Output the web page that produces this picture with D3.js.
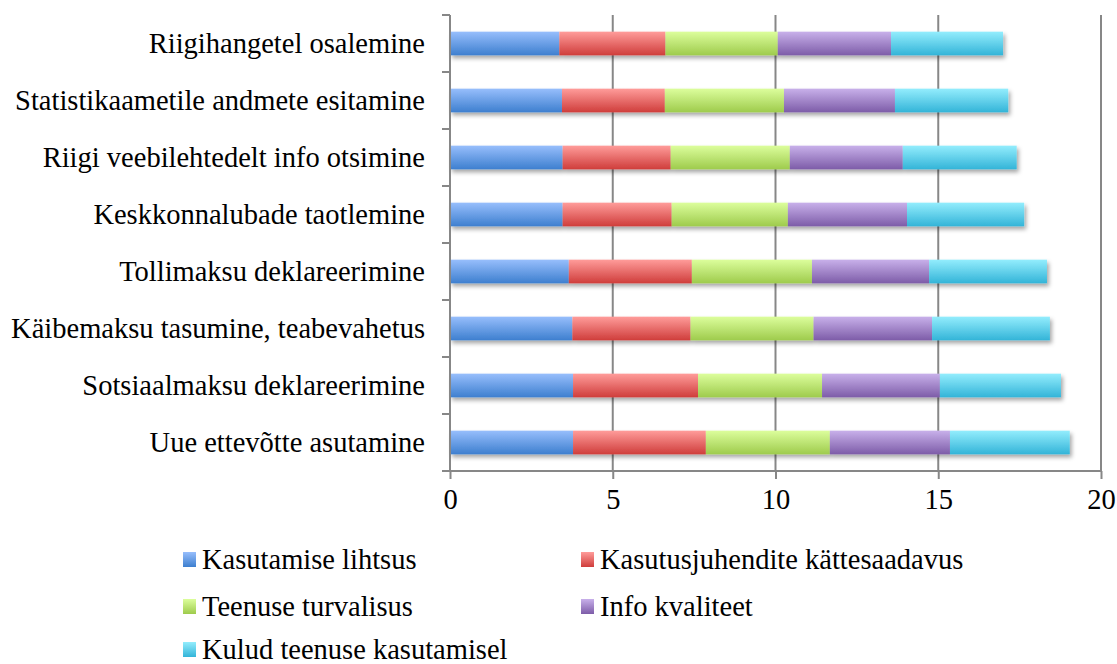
<!DOCTYPE html>
<html>
<head>
<meta charset="utf-8">
<script src="https://cdnjs.cloudflare.com/ajax/libs/d3/7.8.5/d3.min.js"></script>
<style>
  body { margin: 0; background: #fff; }
  text { font-family: "Liberation Serif", "Times New Roman", serif; fill: #000; }
</style>
</head>
<body>
<div id="chart"></div>
<script>
// categories, top to bottom
var categories = [
    "Riigihangetel osalemine",
    "Statistikaametile andmete esitamine",
    "Riigi veebilehtedelt info otsimine",
    "Keskkonnalubade taotlemine",
    "Tollimaksu deklareerimine",
    "Käibemaksu tasumine, teabevahetus",
    "Sotsiaalmaksu deklareerimine",
    "Uue ettevõtte asutamine"
];
var seriesNames = [
    "Kasutamise lihtsus",
    "Kasutusjuhendite kättesaadavus",
    "Teenuse turvalisus",
    "Info kvaliteet",
    "Kulud teenuse kasutamisel"
];
var lihtsus     = [3.36, 3.44, 3.46, 3.46, 3.65, 3.76, 3.78, 3.78];
var juhendid    = [3.26, 3.16, 3.32, 3.35, 3.78, 3.63, 3.84, 4.08];
var turvalisus  = [3.45, 3.66, 3.66, 3.57, 3.69, 3.78, 3.81, 3.81];
var kvaliteet   = [3.48, 3.41, 3.47, 3.66, 3.60, 3.64, 3.62, 3.69];
var kulud       = [3.44, 3.48, 3.50, 3.60, 3.62, 3.62, 3.72, 3.68];
var xTicks = [0, 5, 10, 15, 20];

var colors = [
    ["#97befc", "#3d7fcf"],
    ["#ff9c9a", "#cf3d3b"],
    ["#dcfe9c", "#9ecb4c"],
    ["#c8b0ea", "#7d5ca8"],
    ["#93edfd", "#33b4d8"]
];

var width = 1117, height = 664;
var mLeft = 450, mRight = 1101, mTop = 15, mBottom = 471;
var fontSize = 28.5;

var table = categories.map(function(c, i) {
    return {
        name: c,
        s0: lihtsus[i], s1: juhendid[i], s2: turvalisus[i], s3: kvaliteet[i], s4: kulud[i]
    };
});
var keys = ["s0", "s1", "s2", "s3", "s4"];
var stacked = d3.stack().keys(keys)(table);

var svg = d3.select("#chart").append("svg")
    .attr("width", width)
    .attr("height", height);

var defs = svg.append("defs");
colors.forEach(function(c, i) {
    var g = defs.append("linearGradient")
        .attr("id", "grad" + i)
        .attr("x1", 0).attr("y1", 0).attr("x2", 0).attr("y2", 1);
    g.append("stop").attr("offset", "0%").attr("stop-color", c[0]);
    g.append("stop").attr("offset", "100%").attr("stop-color", c[1]);
});
var shadow = defs.append("filter").attr("id", "shadow")
    .attr("x", "-5%").attr("y", "-30%").attr("width", "110%").attr("height", "180%");
shadow.append("feDropShadow")
    .attr("dx", 2).attr("dy", 3)
    .attr("stdDeviation", 2)
    .attr("flood-color", "#000")
    .attr("flood-opacity", 0.35);

var x = d3.scaleLinear().domain([0, 20]).range([mLeft, mRight]);
var y = d3.scaleBand().domain(categories).range([mTop, mBottom])
    .paddingInner(0.585).paddingOuter(0.2925);

var gridColor = "#878787";

// vertical gridlines
svg.append("g").selectAll("line")
    .data(xTicks.slice(1))
    .join("line")
    .attr("x1", function(d) { return x(d); })
    .attr("x2", function(d) { return x(d); })
    .attr("y1", mTop)
    .attr("y2", mBottom)
    .attr("stroke", gridColor)
    .attr("stroke-width", 2);

// bars, one row group per category with shadow
var rows = svg.append("g").selectAll("g")
    .data(table)
    .join("g")
    .attr("filter", "url(#shadow)");

rows.selectAll("rect")
    .data(function(d, i) {
        return stacked.map(function(s, k) { return { k: k, seg: s[i] }; });
    })
    .join("rect")
    .attr("x", function(d) { return x(d.seg[0]); })
    .attr("width", function(d) { return x(d.seg[1]) - x(d.seg[0]); })
    .attr("y", function(d) { return y(d.seg.data.name); })
    .attr("height", y.bandwidth())
    .attr("fill", function(d) { return "url(#grad" + d.k + ")"; });

// x axis
var xAxis = svg.append("g")
    .attr("transform", "translate(0," + mBottom + ")")
    .call(d3.axisBottom(x).tickValues(xTicks).tickSize(8).tickPadding(10));
xAxis.select(".domain")
    .attr("d", "M" + (mLeft - 8) + ",0H" + mRight)
    .attr("stroke", gridColor).attr("stroke-width", 2);
xAxis.selectAll(".tick line").attr("stroke", gridColor).attr("stroke-width", 2);
xAxis.selectAll(".tick text")
    .style("font-family", "'Liberation Serif', serif")
    .attr("font-size", fontSize)
    .attr("dy", "0.71em");

// y axis
var yAxis = svg.append("g")
    .attr("transform", "translate(" + mLeft + ",0)")
    .call(d3.axisLeft(y).tickSize(0).tickPadding(25));
yAxis.select(".domain")
    .attr("d", "M0," + mTop + "V" + mBottom)
    .attr("stroke", gridColor).attr("stroke-width", 2);
yAxis.selectAll(".tick text")
    .style("font-family", "'Liberation Serif', serif")
    .attr("font-size", fontSize);

// category boundary ticks on the y axis
var bounds = d3.range(categories.length + 1).map(function(i) { return mTop + i * y.step(); });
svg.append("g").selectAll("line")
    .data(bounds)
    .join("line")
    .attr("x1", mLeft - 8)
    .attr("x2", mLeft)
    .attr("y1", function(d) { return d; })
    .attr("y2", function(d) { return d; })
    .attr("stroke", gridColor)
    .attr("stroke-width", 2);

// legend
var legendPos = [[183, 559], [581, 559], [183, 606], [581, 606], [183, 649]];
var legend = svg.append("g").selectAll("g")
    .data(seriesNames)
    .join("g")
    .attr("transform", function(d, i) {
        return "translate(" + legendPos[i][0] + "," + legendPos[i][1] + ")";
    });
legend.append("rect")
    .attr("x", 0).attr("y", -7)
    .attr("width", 13).attr("height", 15)
    .attr("fill", function(d, i) { return "url(#grad" + i + ")"; });
legend.append("text")
    .attr("x", 19)
    .attr("y", 0)
    .attr("dy", "0.35em")
    .attr("font-size", fontSize)
    .text(function(d) { return d; });
</script>
</body>
</html>
